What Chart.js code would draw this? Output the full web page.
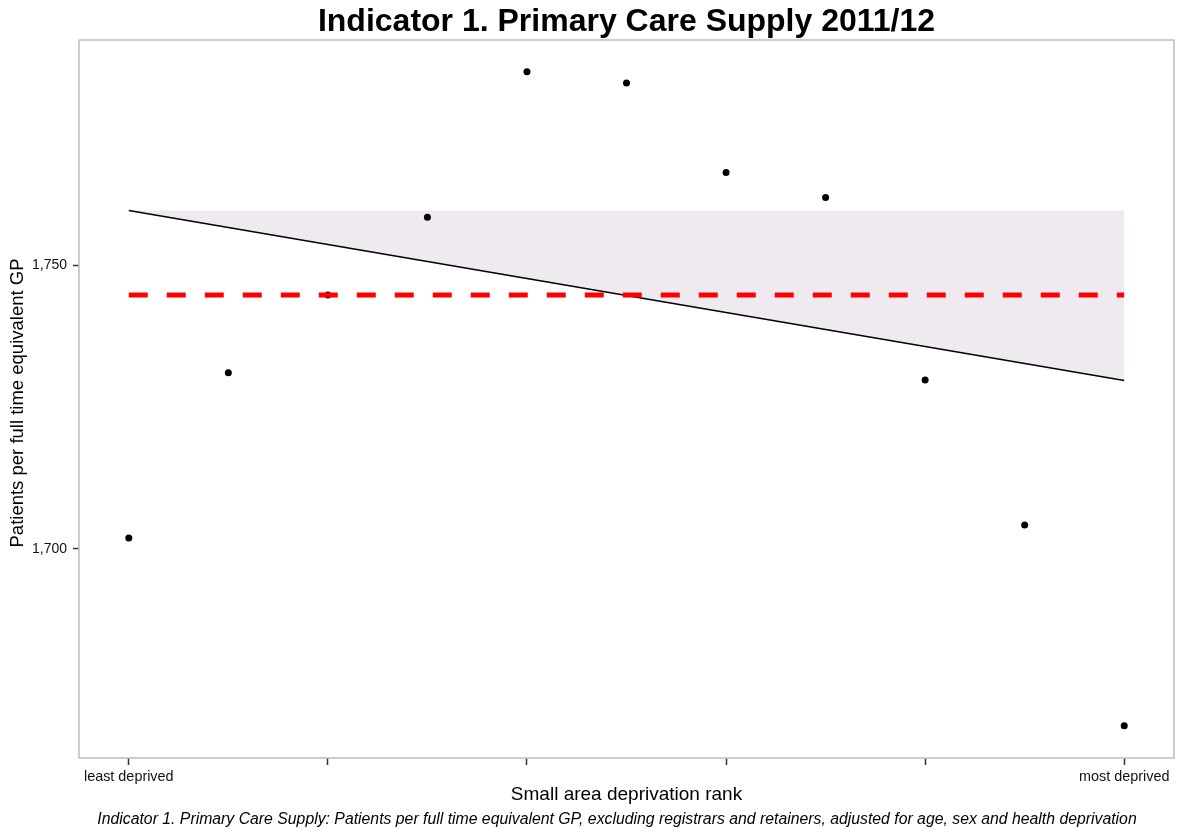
<!DOCTYPE html>
<html>
<head>
<meta charset="utf-8">
<title>Indicator 1. Primary Care Supply 2011/12</title>
<script src="https://cdn.jsdelivr.net/npm/chart.js@4/dist/chart.umd.min.js"></script>
<style>
    html, body { margin: 0; padding: 0; background: #fff; }
    canvas { display: block; }
</style>
</head>
<body>
<canvas id="supply_chart" width="1178" height="829"></canvas>
<script>
// Chart data
const ranks          = [0, 1, 2, 3, 4, 5, 6, 7, 8, 9, 10];
const patientsPerGp  = [1701.9, 1731.1, 1744.8, 1758.5, 1784.2, 1782.2, 1766.4, 1762.0, 1729.8, 1704.2, 1668.8];
const trendRanks     = [0, 10];
const trendValues    = [1759.7, 1729.7];
const averageValue   = 1744.8;
const bandTopValue   = 1759.7;
const yTickValues    = [1700, 1750];
const xTickValues    = [0, 2, 4, 6, 8, 10];
const xTickLabels    = { 0: 'least deprived', 10: 'most deprived' };

const FONT = '"Liberation Sans", Arial, Helvetica, sans-serif';

const toPoints = ( xs, ys ) => xs.map( ( x, i ) => ({ x: x, y: ys[i] }) );

// Titles and frame
const textPlugin = {
    id: 'textPlugin',
    afterDatasetsDraw( chart ) {
        const ctx  = chart.ctx;
        const area = chart.chartArea;
        ctx.save();
        ctx.strokeStyle = '#bdbdbd';
        ctx.lineWidth   = 1.5;
        ctx.strokeRect( area.left, area.top, area.right - area.left, area.bottom - area.top );
        ctx.restore();
    },
    afterDraw( chart ) {
        const ctx  = chart.ctx;
        const area = chart.chartArea;
        const cx   = ( area.left + area.right ) / 2;
        ctx.save();
        ctx.fillStyle    = '#000';
        ctx.textAlign    = 'center';
        ctx.textBaseline = 'middle';

        ctx.font = 'bold 32px ' + FONT;
        ctx.fillText( 'Indicator 1. Primary Care Supply 2011/12', cx, 22 );

        ctx.font = '19px ' + FONT;
        ctx.fillText( 'Small area deprivation rank', cx, 795 );

        ctx.font = 'italic 15.8px ' + FONT;
        ctx.fillText( 'Indicator 1. Primary Care Supply: Patients per full time equivalent GP, excluding registrars and retainers, adjusted for age, sex and health deprivation', 617, 820 );

        ctx.translate( 18, 403 );
        ctx.rotate( -Math.PI / 2 );
        ctx.font = '18.5px ' + FONT;
        ctx.fillText( 'Patients per full time equivalent GP', 0, 0 );
        ctx.restore();
    }
};

const supplyCtx = document.getElementById('supply_chart');

new Chart(supplyCtx, {
    type: 'scatter',
    data: {
        datasets: [
            {
                // shaded band between trend and its start value
                data: toPoints( trendRanks, [bandTopValue, bandTopValue] ),
                showLine: true,
                borderWidth: 0,
                pointRadius: 0,
                backgroundColor: '#efeaef',
                fill: '+1',
                order: 4
            },
            {
                data: toPoints( trendRanks, trendValues ),
                showLine: true,
                borderColor: '#000',
                borderWidth: 1.5,
                pointRadius: 0,
                fill: false,
                order: 2
            },
            {
                data: toPoints( ranks, patientsPerGp ),
                pointRadius: 3.5,
                pointBackgroundColor: '#000',
                pointBorderWidth: 0,
                order: 3
            },
            {
                data: toPoints( trendRanks, [averageValue, averageValue] ),
                showLine: true,
                borderColor: '#ff0000',
                borderWidth: 5,
                borderDash: [19, 19],
                pointRadius: 0,
                fill: false,
                order: 0
            }
        ]
    },
    options: {
        responsive: false,
        animation: false,
        layout: { padding: { top: 40, right: 4, left: 0, bottom: 0 } },
        plugins: {
            legend: { display: false },
            tooltip: { enabled: false },
            title: { display: false }
        },
        scales: {
            x: {
                type: 'linear',
                min: -0.5,
                max: 10.5,
                afterFit: ( scale ) => { scale.height = 71; },
                afterBuildTicks: ( scale ) => { scale.ticks = xTickValues.map( v => ({ value: v }) ); },
                border: { display: false },
                grid: { drawOnChartArea: false, drawTicks: true, tickLength: 7, tickWidth: 1.5, tickColor: '#333' },
                ticks: {
                    color: '#111',
                    padding: 3,
                    maxRotation: 0,
                    autoSkip: false,
                    font: { family: FONT, size: 14.4 },
                    callback: ( v ) => xTickLabels[v] || ''
                }
            },
            y: {
                type: 'linear',
                min: 1663.1,
                max: 1789.8,
                afterFit: ( scale ) => { scale.width = 79; },
                afterBuildTicks: ( scale ) => { scale.ticks = yTickValues.map( v => ({ value: v }) ); },
                border: { display: false },
                grid: { drawOnChartArea: false, drawTicks: true, tickLength: 6, tickWidth: 1.5, tickColor: '#333' },
                ticks: {
                    color: '#111',
                    padding: 6,
                    font: { family: FONT, size: 14 },
                    callback: ( v ) => v.toLocaleString('en-US')
                }
            }
        }
    },
    plugins: [textPlugin]
});
</script>
</body>
</html>
